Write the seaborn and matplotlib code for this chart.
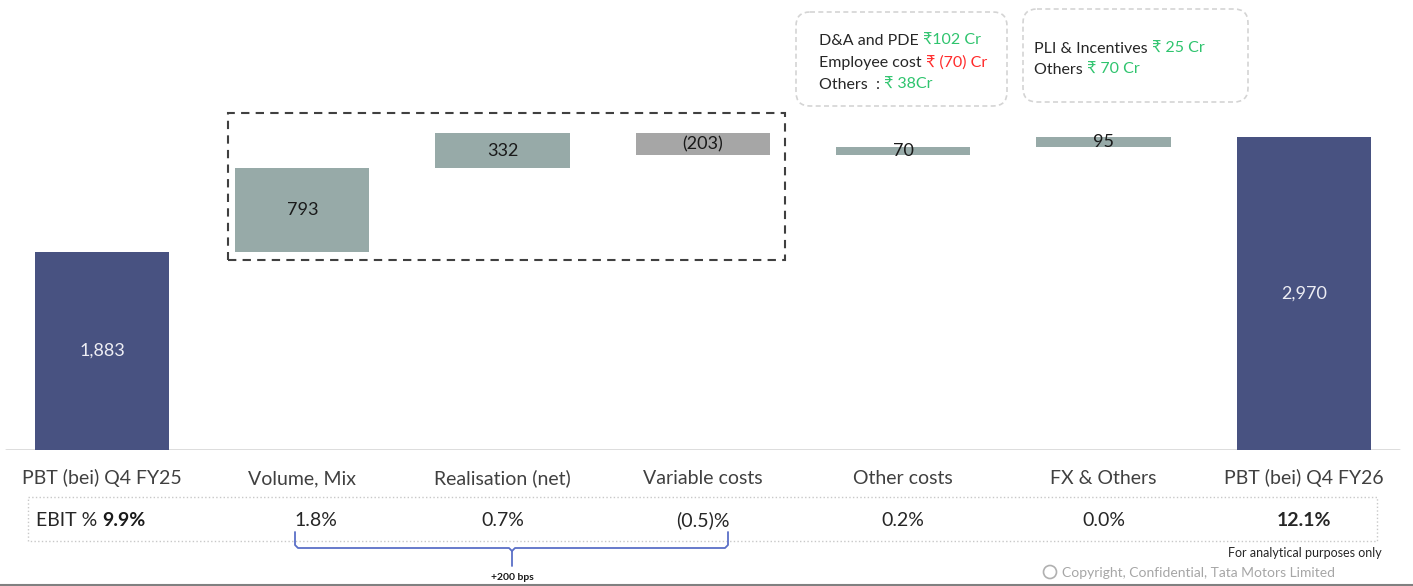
import numpy as np
import seaborn as sns
import matplotlib.pyplot as plt
from matplotlib.patches import Rectangle, FancyBboxPatch, Circle
from matplotlib.transforms import blended_transform_factory

# waterfall data (Rs Cr)
categories = ['PBT (bei) Q4 FY25', 'Volume, Mix', 'Realisation (net)', 'Variable costs',
              'Other costs', 'FX & Others', 'PBT (bei) Q4 FY26']
values = [1883, 793, 332, -203, 70, 95, 2970]
kinds = ['total', 'up', 'up', 'down', 'up', 'up', 'total']
value_labels = ['1,883', '793', '332', '(203)', '70', '95', '2,970']
ebit_labels = ['9.9%', '1.8%', '0.7%', '(0.5)%', '0.2%', '0.0%', '12.1%']

other_costs_notes = [[('D&A and PDE ', 'dark'), ('₹102 Cr', 'green')],
                     [('Employee cost ', 'dark'), ('₹ (70) Cr', 'red')],
                     [('Others  : ', 'dark'), ('₹ 38Cr', 'green')]]
fx_notes = [[('PLI & Incentives ', 'dark'), ('₹ 25 Cr', 'green')],
            [('Others ', 'dark'), ('₹ 70 Cr', 'green')]]

kind_colors = {'total': '#485281', 'up': '#97aaa8', 'down': '#a6a6a6'}
text_colors = {'dark': '#262626', 'green': '#2fc46e', 'red': '#ff2b2b'}

# bottoms / heights of the floating bars
bottoms, heights = [], []
running = 0
for v, k in zip(values, kinds):
    if k == 'total':
        bottoms.append(0)
        heights.append(v)
        running = v
    elif v >= 0:
        bottoms.append(running)
        heights.append(v)
        running += v
    else:
        bottoms.append(running + v)
        heights.append(-v)
        running += v

sns.set_theme(style='white')
plt.rcParams['font.family'] = ['Lato', 'Noto Sans', 'DejaVu Sans']

W, H = 1413, 586
fig = plt.figure(figsize=(W / 100, H / 100), dpi=100)
base_px = 450
ax = fig.add_axes([0, (H - base_px) / H, 1, base_px / H])
ax.set_facecolor('none')

sns.barplot(x=categories, y=heights, hue=categories, order=categories,
            palette=[kind_colors[k] for k in kinds], width=0.67,
            legend=False, ax=ax, saturation=1, edgecolor='none')
for patch, b in zip(ax.patches, bottoms):
    patch.set_y(b)

step = 200.3
ax.set_xlim(-102 / step, (W - 102) / step)
ax.set_ylim(0, base_px / 0.1053)
for s in ax.spines.values():
    s.set_visible(False)
ax.set_yticks([])
ax.set_xlabel('')
ax.tick_params(axis='x', length=0, labelbottom=False)
ax.axhline(0, color='#d9d9d9', lw=2, xmin=0.004, xmax=0.99, zorder=0)

for i, (lab, b, h, k) in enumerate(zip(value_labels, bottoms, heights, kinds)):
    ax.text(i, b + h / 2, lab, ha='center', va='center', fontsize=13,
            color='#eeeef4' if k == 'total' else '#1a1a1a', zorder=6)

# dashed box around the volume / realisation / variable cost block
ax.add_patch(Rectangle((0.63, 1804), 3.41 - 0.63, 3200 - 1804, fill=False,
                       ec='#404040', lw=1.5, ls=(0, (4, 3)), zorder=5))

# overlay in pixel coordinates for the annotations
ov = fig.add_axes([0, 0, 1, 1])
ov.set_xlim(0, W)
ov.set_ylim(H, 0)
ov.axis('off')
ov.patch.set_alpha(0)
tr = blended_transform_factory(ax.transData, ov.transData)

# category labels on a common baseline
for i, cat in enumerate(categories):
    ov.text(i, 484, cat, transform=tr, ha='center', va='baseline',
            fontsize=14, color='#404040')

def note_lines(x, ys, lines):
    for y, parts in zip(ys, lines):
        t = ov.text(x, y, parts[0][0], color=text_colors[parts[0][1]],
                    fontsize=11.5, va='bottom', ha='left')
        for s, c in parts[1:]:
            t = ov.annotate(s, xy=(1, 0), xycoords=t, va='bottom', ha='left',
                            color=text_colors[c], fontsize=11.5)

for (x0, y0, x1, y1) in [(796, 12, 1007, 106), (1023, 9, 1248, 102)]:
    ov.add_patch(FancyBboxPatch((x0 + 14, y0 + 14), x1 - x0 - 28, y1 - y0 - 28,
                                boxstyle='round,pad=14', fill=False,
                                ec='#d4d4d4', lw=1.2, ls=(0, (3, 2))))
note_lines(819, [48, 70, 92], other_costs_notes)
note_lines(1034, [56, 77], fx_notes)

# EBIT row
ov.add_patch(Rectangle((28, 497), 1377 - 28, 541 - 497, fill=False,
                       ec='#c8c8c8', lw=1, ls=':'))
ebit_base = 526
ov.text(36, ebit_base, 'EBIT % ', ha='left', va='baseline', fontsize=14, color='#262626')
ov.annotate(ebit_labels[0], xy=(1, 0), xycoords=ov.texts[-1], va='bottom',
            ha='left', fontsize=14, color='#1a1a1a', fontweight='bold')
for i, lab in enumerate(ebit_labels[1:], start=1):
    ov.text(i + (0.07 if i == 1 else 0), ebit_base, lab, transform=tr, ha='center',
            va='baseline', fontsize=14, color='#262626',
            fontweight='bold' if i == len(ebit_labels) - 1 else 'normal')

# brace under the first three drivers
bc = '#5a6fc7'
ov.plot([295, 295, 298, 509, 512, 512], [532, 545, 548, 548, 551, 566], color=bc, lw=1.3)
ov.plot([728, 728, 725, 515, 512], [532, 545, 548, 548, 551], color=bc, lw=1.3)
ov.text(512, 577, '+200 bps', ha='center', va='center', fontsize=7.5,
        fontweight='bold', color='#1a1a1a')

ov.text(1382, 553, 'For analytical purposes only', ha='right', va='center',
        fontsize=9, color='#262626')
ov.add_patch(Circle((1050, 572), 6.5, fill=False, ec='#b0b0b0', lw=1.2))
ov.text(1062, 573, 'Copyright, Confidential, Tata Motors Limited', ha='left',
        va='center', fontsize=10, color='#a6a6a6')
ov.plot([0, W], [584.5, 584.5], color='#808080', lw=1.5)

fig.savefig('out.png', dpi=100)
